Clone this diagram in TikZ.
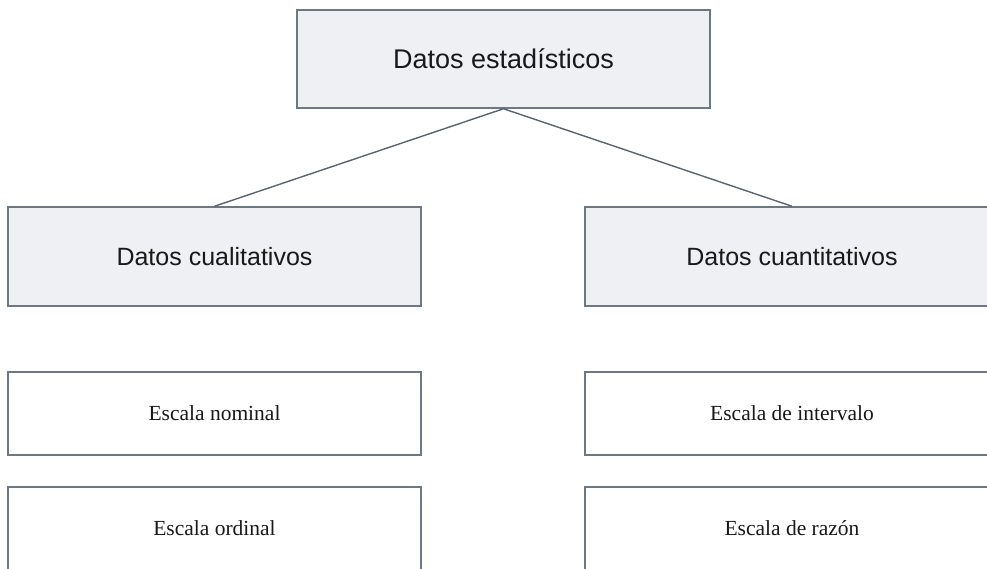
\documentclass[tikz,border=0pt]{standalone}
\usepackage{fontspec}
\setmainfont{Liberation Serif}
\newfontfamily\arialfont{Liberation Sans}
\definecolor{boxline}{HTML}{6E7883}
\definecolor{boxfill}{HTML}{EEF0F3}
\definecolor{linkcol}{HTML}{5A6470}
\tikzset{
  headbox/.style={draw=boxline, line width=1.5pt, fill=boxfill, rectangle,
    minimum width=413pt, minimum height=98pt, inner sep=0pt,
    font=\arialfont\fontsize{25}{30}\selectfont, text=black!90},
  scalebox/.style={draw=boxline, line width=1.5pt, fill=white, rectangle,
    minimum width=413pt, minimum height=83pt, inner sep=0pt,
    font=\fontsize{21.5}{25}\selectfont, text=black!90},
  link/.style={draw=linkcol, line width=1.4pt}
}
\begin{document}
\begin{tikzpicture}[x=1pt,y=-1pt]
\useasboundingbox (0,0) rectangle (987,568);
\fill[white] (0,0) rectangle (987,568);
\begin{scope}
\clip (0,0) rectangle (987,568);
\node[headbox, font=\arialfont\fontsize{27}{32}\selectfont] (top) at (503.5,59) {Datos estadísticos};
\node[headbox, minimum height=99pt] (cual) at (214.5,256.5) {Datos cualitativos};
\node[headbox, minimum height=99pt, minimum width=414pt] (cuan) at (792,256.5) {Datos cuantitativos};
\node[scalebox] (nom) at (214.5,413.5) {Escala nominal};
\node[scalebox] (ord) at (214.5,528.5) {Escala ordinal};
\node[scalebox, minimum width=414pt] (int) at (792,413.5) {Escala de intervalo};
\node[scalebox, minimum width=414pt] (raz) at (792,528.5) {Escala de razón};
\draw[link] (top.south) -- (cual.north);
\draw[link] (top.south) -- (cuan.north);
\end{scope}
\end{tikzpicture}
\end{document}
